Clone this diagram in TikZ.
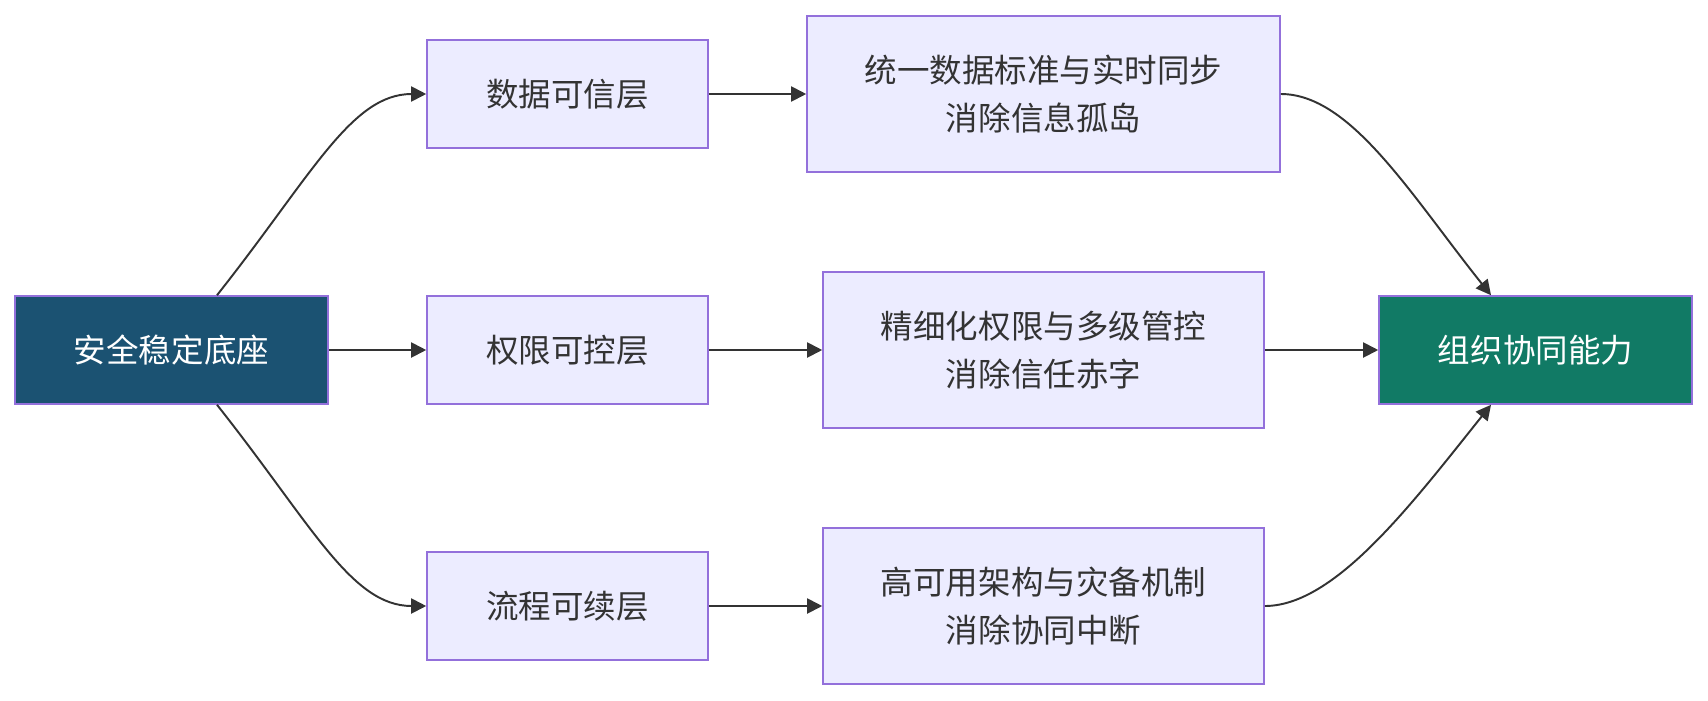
\documentclass[tikz,border=0pt]{standalone}
\usepackage{fontspec}
\newfontfamily\cjk{Noto Sans CJK SC}
\usetikzlibrary{arrows.meta, positioning, calc}
\definecolor{boxfill}{HTML}{ECECFF}
\definecolor{boxline}{HTML}{9370DB}
\definecolor{basefill}{HTML}{1B5272}
\definecolor{goalfill}{HTML}{117A65}
\definecolor{edgeline}{HTML}{333333}

\begin{document}
\begin{tikzpicture}[
  layer/.style={rectangle, draw=boxline, fill=boxfill, line width=0.9pt, align=center, minimum width=5.62cm, minimum height=2.16cm, inner sep=0pt, text=black!80, font=\cjk\fontsize{18.5}{27}\selectfont},
  detail/.style={layer, minimum width=8.82cm, minimum height=3.12cm},
  base/.style={layer, fill=basefill, text=white, minimum width=6.26cm},
  goal/.style={base, fill=goalfill},
  arrow/.style={line width=1.1pt, draw=edgeline, -{Triangle[length=0.3cm, width=0.3cm]}}]

\useasboundingbox (0,0) rectangle (34.16,-14);

\node[base] (seat) at (3.43,-7) {安全稳定底座};
\node[layer] (data) at (11.35,-1.88) {数据可信层};
\node[layer] (auth) at (11.35,-7) {权限可控层};
\node[layer] (flow) at (11.35,-12.12) {流程可续层};
\node[detail, minimum width=9.46cm] (sync) at (20.87,-1.88) {统一数据标准与实时同步\\消除信息孤岛};
\node[detail] (ctrl) at (20.87,-7) {精细化权限与多级管控\\消除信任赤字};
\node[detail] (ha) at (20.87,-12.12) {高可用架构与灾备机制\\消除协同中断};
\node[goal] (team) at (30.71,-7) {组织协同能力};

\coordinate (seatN) at ($(seat.north)+(0.91,0)$);
\coordinate (seatS) at ($(seat.south)+(0.91,0)$);
\coordinate (teamN) at ($(team.north)+(-0.89,0)$);
\coordinate (teamS) at ($(team.south)+(-0.89,0)$);

\draw[arrow] (seatN) .. controls ($(seatN)+(1.9,2.4)$) and ($(data.west)+(-1.5,0)$) .. (data.west);
\draw[arrow] (seat) -- (auth);
\draw[arrow] (seatS) .. controls ($(seatS)+(1.9,-2.4)$) and ($(flow.west)+(-1.5,0)$) .. (flow.west);

\draw[arrow] (data) -- (sync);
\draw[arrow] (auth) -- (ctrl);
\draw[arrow] (flow) -- (ha);

\draw[arrow] (sync.east) .. controls ($(sync.east)+(1.4,0)$) and ($(teamN)+(-1.6,2.0)$) .. (teamN);
\draw[arrow] (ctrl) -- (team);
\draw[arrow] (ha.east) .. controls ($(ha.east)+(1.4,0)$) and ($(teamS)+(-1.6,-2.0)$) .. (teamS);

\end{tikzpicture}
\end{document}
